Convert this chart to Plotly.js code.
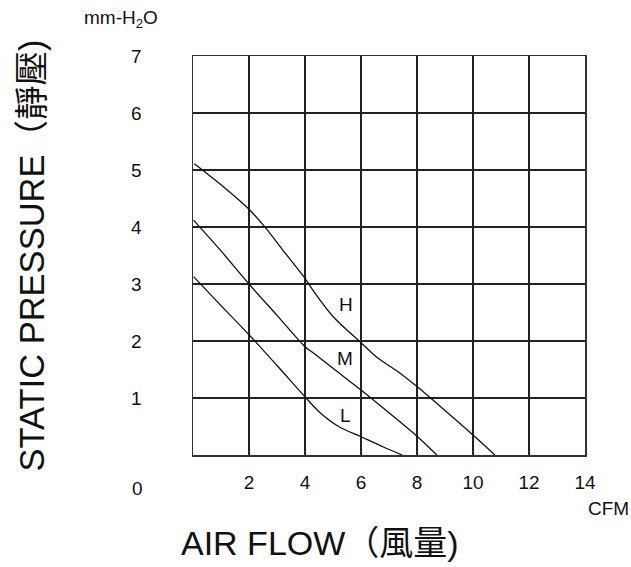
<!DOCTYPE html>
<html><head><meta charset="utf-8">
<script src="https://cdn.plot.ly/plotly-3.0.1.min.js"></script>
<style>html,body{margin:0;padding:0;background:#fff;}</style>
</head><body><div id="chart" style="width:631px;height:567px;"></div>
<script>
const hFlow = [0.05, 1, 2, 2.6, 3.2, 4.0, 4.3, 5.0, 6.0, 6.6, 7.3, 8.0, 9.0, 10.0, 10.78];
const hPressure = [5.11, 4.74, 4.31, 3.98, 3.6, 3.1, 2.88, 2.43, 1.97, 1.7, 1.47, 1.2, 0.78, 0.35, 0];
const mFlow = [0.02, 1, 2, 3, 4, 4.3, 5, 6, 7, 8, 8.71];
const mPressure = [4.12, 3.58, 3.0, 2.45, 1.9, 1.79, 1.52, 1.14, 0.74, 0.33, 0];
const lFlow = [0.02, 1, 2, 3, 4, 4.5, 5.2, 6, 6.8, 7.47];
const lPressure = [3.13, 2.62, 2.11, 1.57, 1.02, 0.76, 0.5, 0.32, 0.14, 0];
const curveNames = ['H', 'M', 'L'];
const labelFlow = [5.45, 5.43, 5.43];
const labelPressure = [2.64, 1.7, 0.69];
const xTicks = [2, 4, 6, 8, 10, 12, 14];
const yTicks = [1, 2, 3, 4, 5, 6, 7];

const FONT = 'Liberation Sans, Arial, Noto Sans CJK TC, sans-serif';
const INK = '#111';
const lineStyle = {color: INK, width: 1.3, shape: 'spline', smoothing: 0.9};
const series = [[hFlow, hPressure], [mFlow, mPressure], [lFlow, lPressure]];
const data = series.map((s, i) => ({
  x: s[0], y: s[1], mode: 'lines', name: curveNames[i], line: lineStyle, hoverinfo: 'skip'
}));

// plot area geometry (pixels)
const L = 193, T = 56, W = 392, H = 399;
const px = (x) => (x - L) / W;
const py = (y) => (T + H - y) / H;

const annotations = curveNames.map((n, i) => ({
  x: labelFlow[i], y: labelPressure[i], xref: 'x', yref: 'y', text: n, showarrow: false,
  xanchor: 'center', yanchor: 'middle',
  font: {family: FONT, size: 19, color: INK}
}));
function paperText(text, x, y, size) {
  return {xref: 'paper', yref: 'paper', x: px(x), y: py(y), text: text, showarrow: false,
    xanchor: 'center', yanchor: 'middle', font: {family: FONT, size: size, color: INK}};
}
annotations.push(paperText('0', 137, 489, 19));
annotations.push(paperText('mm-H<sub>2</sub>O', 121, 19, 19));
annotations.push(paperText('CFM', 608, 508, 19));
annotations.push(paperText('AIR FLOW（風量)', 320, 543, 34));

const layout = {
  width: 631, height: 567,
  margin: {l: L, r: 631 - L - W, t: T, b: 567 - T - H},
  paper_bgcolor: '#fff', plot_bgcolor: '#fff',
  showlegend: false,
  font: {family: FONT, color: INK},
  xaxis: {
    range: [0, 14], tickvals: xTicks, ticktext: xTicks.map(String),
    showgrid: true, gridcolor: '#222', gridwidth: 1.2,
    showline: true, mirror: true, linecolor: '#333', linewidth: 1.5,
    zeroline: false, ticks: '', ticklabelstandoff: 10,
    tickfont: {family: FONT, size: 19, color: INK},
    fixedrange: true
  },
  yaxis: {
    range: [0, 7], tickvals: yTicks, ticktext: yTicks.map(String),
    showgrid: true, gridcolor: '#222', gridwidth: 1.2,
    showline: true, mirror: true, linecolor: '#333', linewidth: 1.5,
    zeroline: false, ticks: '', ticklabelstandoff: 46,
    tickfont: {family: FONT, size: 19, color: INK},
    title: {text: 'STATIC PRESSURE（靜壓)', font: {family: FONT, size: 34.5, color: INK}, standoff: 76},
    fixedrange: true
  },
  annotations: annotations
};
Plotly.newPlot('chart', data, layout, {staticPlot: true});
</script></body></html>
